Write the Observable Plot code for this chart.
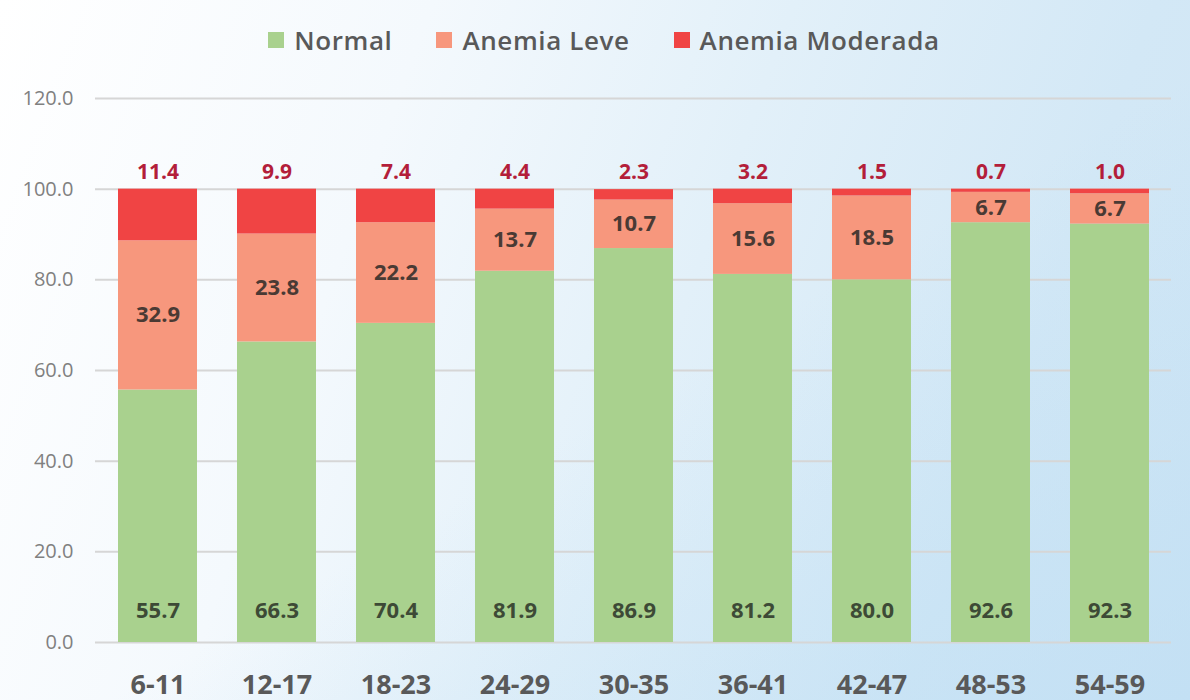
<!DOCTYPE html>
<html>
<head>
<meta charset="utf-8">
<script src="https://cdn.jsdelivr.net/npm/d3@7"></script>
<script src="https://cdn.jsdelivr.net/npm/@observablehq/plot@0.6"></script>
<style>
  html, body { margin: 0; padding: 0; }
  body {
    width: 1190px; height: 700px; overflow: hidden;
    font-family: "Open Sans", sans-serif;
    background:
      linear-gradient(150deg, rgba(255,255,255,0) 55%, rgba(185,220,243,0.55) 100%),
      linear-gradient(110deg, #ffffff 0%, #f4f9fd 30%, #e2f0f9 55%, #d3e8f6 80%, #cfe5f5 100%);
  }
  #legend {
    height: 80px; display: flex; justify-content: center; align-items: center;
    gap: 44px; padding-left: 18px; box-sizing: border-box;
    font-size: 26px; font-weight: 600; color: #595959; letter-spacing: 0.6px;
  }
  #legend .item { display: flex; align-items: center; gap: 10px; }
  #legend .sw { width: 16px; height: 16px; display: inline-block; }
  #chart svg { background: transparent; }
</style>
</head>
<body>
<div id="legend"></div>
<div id="chart"></div>
<script>
const categories = ["6-11", "12-17", "18-23", "24-29", "30-35", "36-41", "42-47", "48-53", "54-59"];
const series = ["Normal", "Anemia Leve", "Anemia Moderada"];
const normal = [55.7, 66.3, 70.4, 81.9, 86.9, 81.2, 80.0, 92.6, 92.3];
const leve = [32.9, 23.8, 22.2, 13.7, 10.7, 15.6, 18.5, 6.7, 6.7];
const moderada = [11.4, 9.9, 7.4, 4.4, 2.3, 3.2, 1.5, 0.7, 1.0];
const yTicks = [0, 20, 40, 60, 80, 100, 120];
const colors = ["#a9d18e", "#f7977d", "#f04444"];

const values = [normal, leve, moderada];
const rows = [];
categories.forEach((c, i) => {
  series.forEach((s, j) => rows.push({cat: c, series: s, value: values[j][i]}));
});

// legend
const legend = document.getElementById("legend");
series.forEach((s, j) => {
  const it = document.createElement("div");
  it.className = "item";
  const sw = document.createElement("span");
  sw.className = "sw";
  sw.style.background = colors[j];
  const t = document.createElement("span");
  t.textContent = s;
  it.appendChild(sw); it.appendChild(t);
  legend.appendChild(it);
});

const fmt = d => d.value.toFixed(1);

const chart = Plot.plot({
  width: 1190,
  height: 620,
  marginTop: 18,
  marginBottom: 58,
  marginLeft: 95,
  marginRight: 19,
  style: {fontFamily: "'Open Sans', sans-serif", background: "transparent", overflow: "visible"},
  x: {domain: categories, paddingInner: 0.34, paddingOuter: 0.17, label: null},
  y: {domain: [0, 120], label: null},
  color: {domain: series, range: colors},
  marks: [
    Plot.gridY(yTicks, {stroke: "#d6d6d6", strokeOpacity: 1, strokeWidth: 2}),
    Plot.barY(rows, {x: "cat", y: "value", z: "series", fill: "series"}),
    Plot.axisY(yTicks, {tickSize: 0, tickPadding: 22, tickFormat: d => d.toFixed(1), fontSize: 20, fill: "#808080", label: null}),
    Plot.axisX({tickSize: 0, tickPadding: 32, fontSize: 27, fontWeight: "bold", fill: "#595959", label: null}),
    Plot.text(rows.filter(d => d.series === "Normal"), {
      x: "cat", text: fmt, frameAnchor: "bottom", dy: -25,
      fontSize: 22, fontWeight: "bold", fill: "#3d4a36"
    }),
    Plot.text(rows, Plot.filter(d => d.series === "Anemia Leve", Plot.stackY({
      x: "cat", y: "value", z: "series", text: fmt,
      fontSize: 22, fontWeight: "bold", fill: "#4a3a34"
    }))),
    Plot.text(rows, Plot.filter(d => d.series === "Anemia Moderada", Plot.stackY2({
      x: "cat", y: "value", z: "series", text: fmt, dy: -17,
      fontSize: 21, fontWeight: "bold", fill: "#b31e3a"
    })))
  ]
});
document.getElementById("chart").appendChild(chart);
</script>
</body>
</html>
